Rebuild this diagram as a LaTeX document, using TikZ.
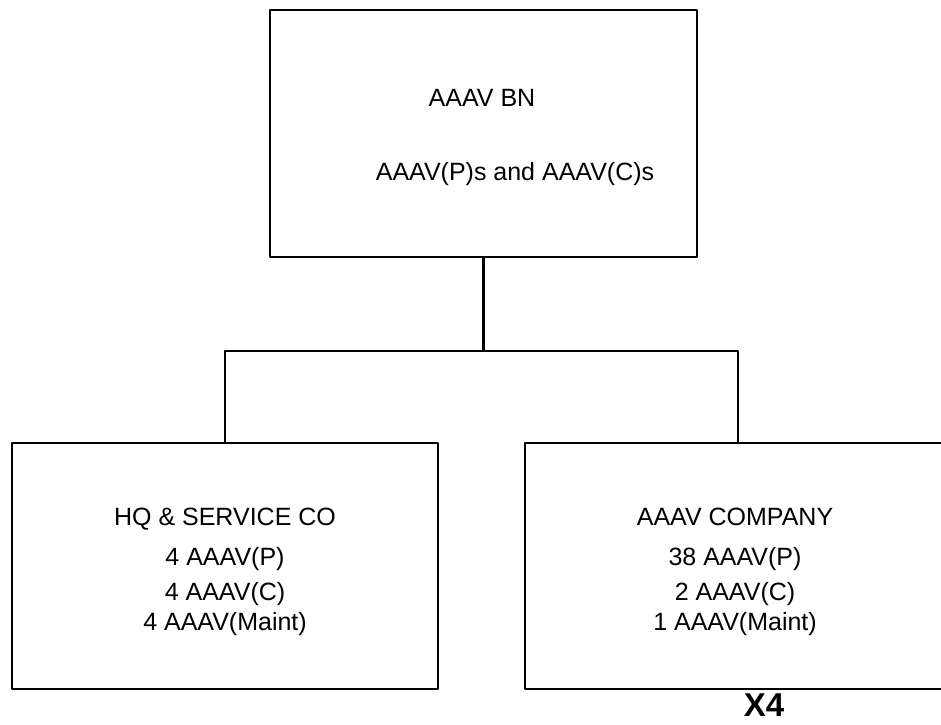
\documentclass[tikz,border=0pt]{standalone}
\usepackage{fontspec}
\setmainfont{Liberation Sans}
\tikzset{
  unit/.style={draw, minimum width=426pt, minimum height=246pt, inner sep=0pt},
  roster/.style={align=center, inner sep=0pt}
}
\begin{document}
\begin{tikzpicture}[x=1pt, y=-1pt, font=\fontsize{25}{30}\selectfont, line width=2.2pt, line join=round]
  \clip (0,0) rectangle (941,724);
  % battalion on top
  \node[unit, minimum width=427pt, minimum height=247pt] (bn) at (483.5,133.5) {};
  \node[anchor=base, inner sep=0pt] (bnname) at (482,106) {AAAV BN};
  \node[anchor=base, inner sep=0pt] (bnveh) at (515,180) {AAAV(P)s and AAAV(C)s};
  % the two kinds of company
  \node[unit] (hq) at (225,566) {};
  \node[roster] (hqveh) at (225,572) {HQ \& SERVICE CO\\[10pt]4 AAAV(P)\\[5pt]4 AAAV(C)\\4 AAAV(Maint)};
  \node[unit] (co) at (738,566) {};
  \node[roster] (coveh) at (735,572) {AAAV COMPANY\\[10pt]38 AAAV(P)\\[5pt]2 AAAV(C)\\1 AAAV(Maint)};
  \node[anchor=base, inner sep=0pt, font=\bfseries\fontsize{33}{40}\selectfont] (times) at (764,716) {X4};
  % tree lines
  \coordinate (fork) at (483.5,351);
  \draw (bn.south) -- (fork);
  \draw (hq.north) |- (fork) -| (co.north);
\end{tikzpicture}
\end{document}
